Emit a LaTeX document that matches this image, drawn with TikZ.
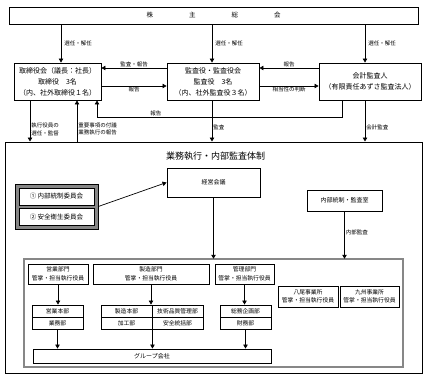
\documentclass[tikz,border=0pt]{standalone}
\usepackage{fontspec}
\setmainfont{Noto Sans CJK JP}
\definecolor{framegray}{RGB}{135, 135, 135}
\usepackage{tikz}
\usetikzlibrary{arrows.meta, positioning, calc}

\tikzset{
  box/.style={draw, line width=0.9pt, fill=white, inner sep=0pt, align=center,
    font=\fontsize{7}{11}\selectfont},
  dbox/.style={box, font=\fontsize{5.8}{8.5}\selectfont},
  sbox/.style={box, minimum width=51pt, minimum height=12pt, font=\fontsize{5.8}{7}\selectfont},
  lbl/.style={inner sep=1pt, align=left, font=\fontsize{5.5}{7.5}\selectfont},
  arr/.style={-{Triangle[length=4pt,width=4.5pt]}, line width=0.7pt},
  gframe/.style={draw, line width=0.5pt, double=framegray, double distance=1.5pt},
}

\begin{document}
\begin{tikzpicture}[x=1pt, y=-1pt]
  \useasboundingbox (0,0) rectangle (427,377);

  % shareholders and the three organs
  \node[box, minimum width=409pt, minimum height=17pt, font=\fontsize{6.5}{8}\selectfont] (soukai) at (213.5,15.5)
    {株\hspace{36pt}主\hspace{36pt}総\hspace{36pt}会};
  \node[box, minimum width=87pt, minimum height=37pt] (torishimari) at (57.5,81.5)
    {取締役会（議長：社長）\\取締役　3名\\（内、社外取締役１名）};
  \node[box, minimum width=92pt, minimum height=37pt] (kansa) at (213,81.5)
    {監査役・監査役会\\監査役　3名\\（内、社外監査役３名）};
  \node[box, minimum width=102pt, minimum height=37pt] (kaikei) at (370,81.5)
    {会計監査人\\（有限責任あずさ監査法人）};

  \foreach \n/\dx in {torishimari/3.5, kansa/-1, kaikei/-5}
    \draw[arr] ([xshift=\dx pt]\n.north |- soukai.south) -- node[lbl, right=2pt] {選任・解任} ([xshift=\dx pt]\n.north);

  \draw[arr] ([yshift=13.5pt]kansa.west) -- node[lbl, above] {監査・報告} ([yshift=13.5pt]torishimari.east);
  \draw[arr] ([yshift=-4.5pt]torishimari.east) -- node[lbl, below] {報告} ([yshift=-4.5pt]kansa.west);
  \draw[arr] ([yshift=13.5pt]kaikei.west) -- node[lbl, above] {報告} ([yshift=13.5pt]kansa.east);
  \draw[arr] ([yshift=-4.5pt]kansa.east) -- node[lbl, below] {相当性の判断} ([yshift=-4.5pt]kaikei.west);
  \draw[arr] ([xshift=-28pt]kaikei.south) -- ++(0,17) -| node[lbl, above, pos=0.38] {報告} ([xshift=39.5pt]torishimari.south);

  % execution and internal audit
  \node[draw, line width=1pt, minimum width=417pt, minimum height=231pt] (gyomu) at (213.5,257.5) {};
  \node[font=\fontsize{9}{10}\selectfont] (title) at (215.5,156) {業務執行・内部監査体制};

  \draw[arr] ([xshift=-27.5pt]torishimari.south) -- node[lbl, right, pos=0.7] {執行役員の\\選任・監督} ([xshift=-27.5pt]torishimari.south |- gyomu.north);
  \draw[arr] ([xshift=19.5pt]torishimari.south |- gyomu.north) -- node[lbl, right, pos=0.3] {重要事項の付議\\業務執行の報告} ([xshift=19.5pt]torishimari.south);
  \draw[arr] ([xshift=-1pt]kansa.south) -- node[lbl, right, pos=0.65] {監査} ([xshift=-1pt]kansa.south |- gyomu.north);
  \draw[arr] ([xshift=-5pt]kaikei.south) -- node[lbl, right, pos=0.65] {会計監査} ([xshift=-5pt]kaikei.south |- gyomu.north);

  \node[box, minimum width=93pt, minimum height=29pt, font=\fontsize{6}{8}\selectfont] (keiei) at (213.5,182.5) {経営会議};
  \node[draw, line width=0.6pt, fill=framegray, minimum width=83pt, minimum height=45pt] (iinkai) at (56.5,206.5) {};
  \node[box, minimum width=75pt, minimum height=17pt, font=\fontsize{6.5}{8}\selectfont] (iin1) at (56.5,196.5) {① 内部統制委員会};
  \node[box, minimum width=75pt, minimum height=17pt, font=\fontsize{6.5}{8}\selectfont] (iin2) at (56.5,217) {② 安全衛生委員会};
  \draw[arr] (iinkai.east) -- (keiei.west);
  \node[box, minimum width=75pt, minimum height=21pt, font=\fontsize{6}{8}\selectfont] (naibu) at (344.5,200.5) {内部統制・監査室};

  % departments
  \node[gframe, minimum width=379pt, minimum height=108pt] (bumon) at (213.5,313) {};
  \draw[arr] (keiei.south) -- (keiei.south |- bumon.north);
  \draw[arr] (naibu.south) -- node[lbl, right, pos=0.45] {内部監査} (naibu.south |- bumon.north);

  \node[dbox, minimum width=60pt, minimum height=20pt] (eigyo) at (58,274) {営業部門\\管掌・担当執行役員};
  \node[dbox, minimum width=116pt, minimum height=20pt] (seizo) at (151,274) {製造部門\\管掌・担当執行役員};
  \node[dbox, minimum width=59pt, minimum height=20pt] (kanri) at (244.5,274) {管理部門\\管掌・担当執行役員};
  \node[dbox, minimum width=60pt, minimum height=21pt] (yao) at (308,296.5) {八尾事業所\\管掌・担当執行役員};
  \node[dbox, minimum width=59pt, minimum height=21pt] (kyushu) at (369.5,296.5) {九州事業所\\管掌・担当執行役員};

  \node[sbox] (eig1) at (57.5,311) {営業本部};
  \node[sbox] (eig2) at (57.5,323) {業務部};
  \node[sbox] (sz1) at (126.5,311) {製造本部};
  \node[sbox] (sz2) at (177.5,311) {技術品質管理部};
  \node[sbox] (sz3) at (126.5,323) {加工部};
  \node[sbox] (sz4) at (177.5,323) {安全統括部};
  \node[sbox] (kr1) at (245.5,311) {総務企画部};
  \node[sbox] (kr2) at (245.5,323) {財務部};

  \draw[arr] (eigyo.south) -- (eigyo.south |- eig1.north);
  \draw[arr] (seizo.south) -- (seizo.south |- sz1.north);
  \draw[arr] (kanri.south) -- (kanri.south |- kr1.north);

  \node[box, minimum width=238pt, minimum height=14pt, font=\fontsize{6}{8}\selectfont] (group) at (152,356) {グループ会社};
  \draw[arr] (eig2.south) -- (eig2.south |- group.north);
  \draw[arr] (sz3.south east) -- (sz3.south east |- group.north);
  \draw[arr] (kr2.south) -- (kr2.south |- group.north);
\end{tikzpicture}
\end{document}
